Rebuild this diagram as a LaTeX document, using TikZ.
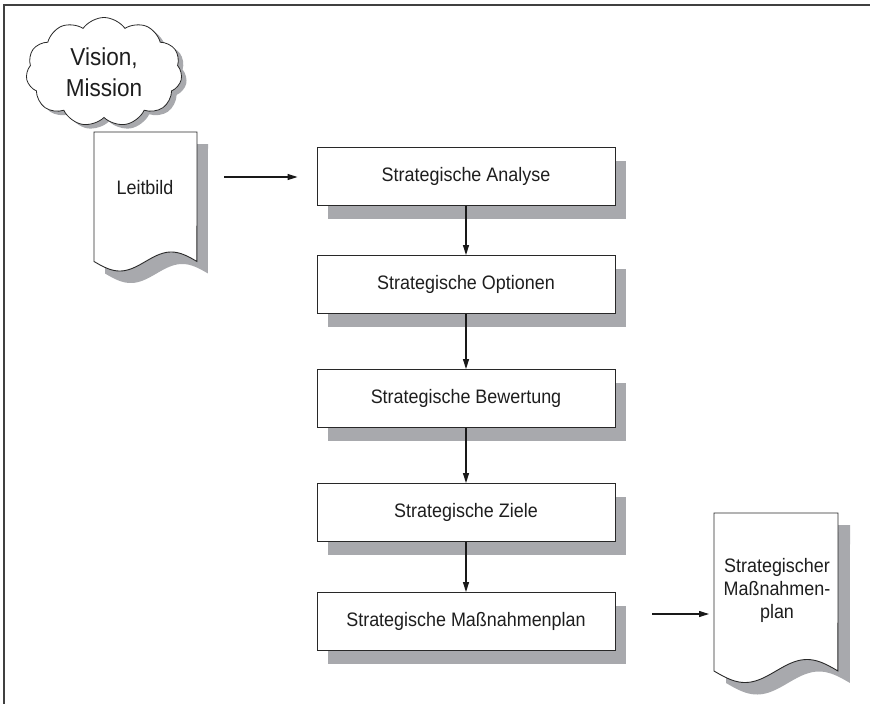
\documentclass[tikz,border=0pt]{standalone}
\usepackage{fontspec}
\setmainfont{Liberation Sans}[FakeStretch=0.92]
\usetikzlibrary{arrows.meta,shapes.symbols,shadows,calc}
\definecolor{shadowc}{RGB}{168,169,173}
\definecolor{linec}{RGB}{40,40,40}
\definecolor{textc}{RGB}{30,30,30}
\begin{document}
\begin{tikzpicture}[x=1pt,y=-1pt,
  sbox/.style={draw=linec, line width=0.9pt, fill=white, minimum width=298pt,
    minimum height=58pt, inner sep=0pt, font=\fontsize{19.5}{23}\selectfont, text=textc,
    drop shadow={shadow xshift=11pt, shadow yshift=-13pt, fill=shadowc, opacity=1}},
  arr/.style={line width=1.1pt, draw=black!90, -{Triangle[length=10pt,width=6pt]}},
  txt/.style={font=\fontsize{19.5}{23}\selectfont, text=textc, align=center, inner sep=0pt},
  docline/.style={draw=linec, line width=0.9pt, fill=white}]
\useasboundingbox (0,0) rectangle (870,704);
% frame
\draw[line width=2pt, draw=black!75] (4,704) -- (4,5) -- (870,5);

% cloud
\node[cloud, cloud puffs=11, cloud puff arc=110, aspect=1.45, draw=linec, line width=0.8pt,
  fill=white, minimum width=156pt, minimum height=109pt, inner sep=1pt, align=center,
  font=\fontsize{24.5}{31}\selectfont, text=textc,
  drop shadow={shadow xshift=5pt, shadow yshift=-4pt, fill=shadowc, opacity=1}]
  (vm) at (104,72) {Vision,\\Mission};

% Leitbild document
\fill[shadowc] (105,144) -- (105,273.5)
  -- plot[domain=0:1,samples=60] ({105+103*\x},{273.5+9.5*sin(360*\x)}) -- (208,144) -- cycle;
\draw[docline] (94,132) -- (94,261.5)
  -- plot[domain=0:1,samples=60] ({94+103*\x},{261.5+9.5*sin(360*\x)}) -- (197,132) -- cycle;
\node[txt] (lb) at (145,188) {Leitbild};

% result document
\fill[shadowc] (726,525) -- (726,683)
  -- plot[domain=0:1,samples=60] ({726+124*\x},{683+11.5*sin(360*\x)}) -- (850,525) -- cycle;
\draw[docline] (714,513) -- (714,671)
  -- plot[domain=0:1,samples=60] ({714+124*\x},{671+11.5*sin(360*\x)}) -- (838,513) -- cycle;
\node[txt] (smp) at (777,590) {Strategischer\\Maßnahmen-\\plan};

% process boxes
\node[sbox] (a1) at (466,176.5) {Strategische Analyse};
\node[sbox] (a2) at (466,284.5) {Strategische Optionen};
\node[sbox] (a3) at (466,398.5) {Strategische Bewertung};
\node[sbox] (a4) at (466,512.5) {Strategische Ziele};
\node[sbox] (a5) at (466,621.5) {Strategische Maßnahmenplan};

% connectors
\coordinate (q1) at (224,177);
\draw[arr, shorten >=19pt] (q1) -- (q1 -| a1.west);
\draw[arr] (a1) -- (a2);
\draw[arr] (a2) -- (a3);
\draw[arr] (a3) -- (a4);
\draw[arr] (a4) -- (a5);
\coordinate (p1) at (652,614);
\coordinate (p2) at (709,614);
\draw[arr] (p1) -- (p2);
\end{tikzpicture}
\end{document}
